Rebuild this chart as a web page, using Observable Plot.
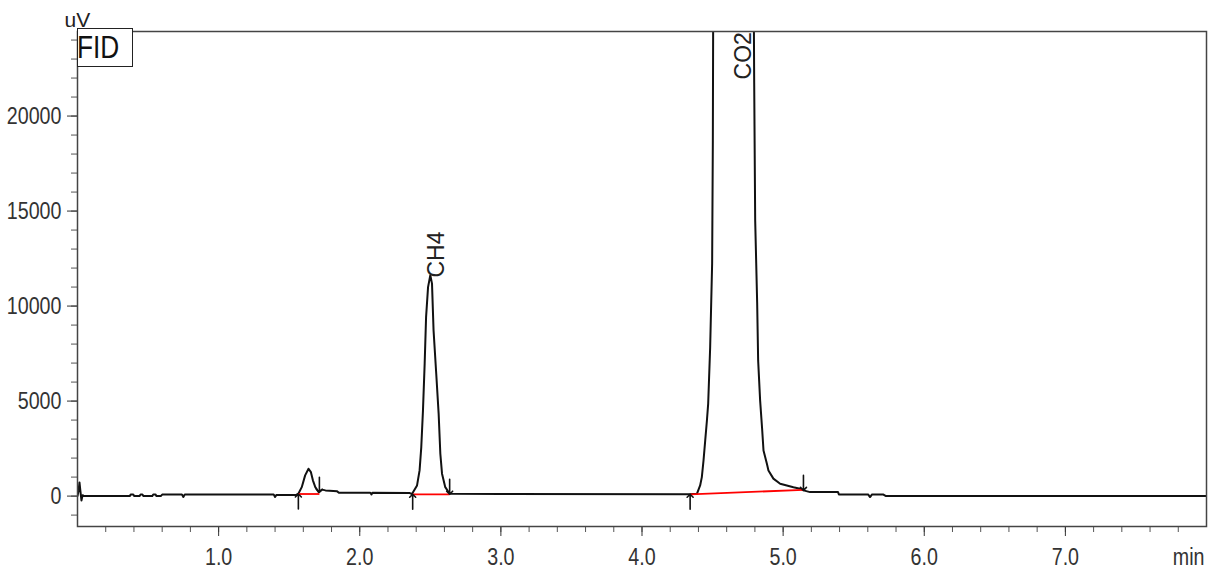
<!DOCTYPE html>
<html><head><meta charset="utf-8">
<script src="https://cdn.jsdelivr.net/npm/d3@7"></script>
<script src="https://cdn.jsdelivr.net/npm/@observablehq/plot@0.6"></script>
<style>
body{margin:0;background:#fff;}
#wrap{position:relative;width:1211px;height:572px;}
#fid{position:absolute;left:77px;top:28px;width:56px;height:39px;box-sizing:border-box;border:1.5px solid #222;background:#fff;overflow:hidden;}
#fid span{display:inline-block;font-family:'Liberation Sans',Arial,sans-serif;font-size:32px;line-height:37px;color:#111;transform:scaleX(0.82);transform-origin:0 0;margin-left:-1px;}
</style></head><body><div id="wrap"></div>
<script>
const sans = "'Liberation Sans',Arial,sans-serif";

// chromatogram trace (time in min, signal in uV)
const traceTime = [0.000,0.008,0.014,0.020,0.028,0.036,0.045,0.370,0.378,0.395,0.402,0.440,0.447,0.460,0.467,0.530,0.537,0.552,0.560,0.590,0.600,0.740,0.750,0.760,1.390,1.400,1.410,1.550,
 1.565,1.589,1.613,1.637,1.654,1.668,1.685,1.709,1.733,1.757,1.840,1.852,2.075,2.083,2.090,2.355,
 2.370,2.406,2.424,2.436,2.448,2.460,2.470,2.484,2.500,2.512,2.523,2.542,2.559,2.571,2.583,2.606,2.637,3.000,
 4.341,4.389,4.412,4.424,4.436,4.448,4.460,4.469,4.483,4.497,4.502,4.506,4.560,4.650,4.740,4.789,
 4.795,4.802,4.816,4.823,4.837,4.851,4.861,4.885,4.896,4.931,4.979,5.026,5.073,5.120,5.144,5.191,5.389,5.395,5.602,5.616,5.630,5.708,5.729,8.000];
const traceSignal = [0,300,720,300,-230,50,0,0,90,90,0,0,90,90,0,0,90,90,0,0,80,80,-40,80,80,-40,60,60,
 125,470,1090,1440,1260,830,470,210,340,300,250,180,180,90,180,160,
 110,560,1350,2580,4510,6970,9420,11000,11620,11180,8720,6440,4340,2230,1180,470,120,110,
 100,120,560,1000,1880,2930,3980,4870,7830,12250,18700,30000,60000,70000,60000,30000,
 21770,14510,10190,7140,5040,3560,2400,1700,1350,920,650,560,470,390,300,210,210,90,90,-50,90,90,0,0];

// integration baselines (red) and start/end markers
const baseStartT = [1.565, 2.375, 4.341];
const baseStartV = [110, 90, 90];
const baseEndT = [1.714, 2.637, 5.144];
const baseEndV = [110, 90, 330];
const markStartV = [110, 100, 100];
const markEndV = [200, 100, 300];

// peak labels
const peakNames = ["CH4", "CO2"];
const peakLabelT = [2.548, 4.72];
const peakLabelV = [11500, 21930];

// ticks
const yMajorTicks = [0, 5000, 10000, 15000, 20000];
const yMinorTicks = d3.range(-1000, 24001, 1000);
const xMajorTicks = [1, 2, 3, 4, 5, 6, 7];
const xMinorTicks = d3.range(0.2, 7.9, 0.2);

const trace = traceTime.map((t, i) => ({t, v: traceSignal[i]}));
const baselines = baseStartT.map((t, i) => ({t0: t, v0: baseStartV[i], t1: baseEndT[i], v1: baseEndV[i]}));
const starts = baseStartT.map((t, i) => ({t, v: markStartV[i]}));
const ends = baseEndT.map((t, i) => ({t, v: markEndV[i]}));
const peaks = peakNames.map((n, i) => ({name: n, t: peakLabelT[i], v: peakLabelV[i]}));

const chart = Plot.plot({
  width: 1211, height: 572,
  marginLeft: 77, marginRight: 5, marginTop: 31, marginBottom: 46,
  x: {domain: [0, 8]},
  y: {domain: [-1600, 24450]},
  style: {fontFamily: sans, background: "#fff", color: "#333", overflow: "visible"},
  marks: [
    Plot.axisY(yMinorTicks, {tickSize: 6, tickFormat: () => "", label: null, color: "#555"}),
    Plot.axisY(yMajorTicks, {tickSize: 10, tickPadding: 6, tickFormat: d3.format("d"), fontSize: 24, label: null, color: "#333"}),
    Plot.axisX(xMinorTicks, {tickSize: 6, tickFormat: () => "", label: null, color: "#555"}),
    Plot.axisX(xMajorTicks, {tickSize: 10, tickPadding: 11, tickFormat: d3.format(".1f"), fontSize: 24, label: null, color: "#333"}),
    Plot.line(trace, {x: "t", y: "v", stroke: "#111", strokeWidth: 2, clip: true}),
    Plot.link(baselines, {x1: "t0", y1: "v0", x2: "t1", y2: "v1", stroke: "#ff0000", strokeWidth: 1.8}),
    Plot.vector(starts, {x: "t", y: "v", length: 15, rotate: 0, anchor: "end", shape: "arrow", stroke: "#111", strokeWidth: 1.6}),
    Plot.vector(ends, {x: "t", y: "v", length: 15, rotate: 180, anchor: "end", shape: "arrow", stroke: "#111", strokeWidth: 1.6}),
    Plot.text(peaks, {x: "t", y: "v", text: "name", rotate: -90, textAnchor: "start", fontSize: 23, fill: "#222"}),
    Plot.frame({stroke: "#444", strokeWidth: 1.5}),
    Plot.text(["uV"], {frameAnchor: "top-left", dx: -13, dy: -5, textAnchor: "start", lineAnchor: "bottom", fontSize: 21, fill: "#222"}),
    Plot.text(["min"], {frameAnchor: "bottom-right", dx: -2, dy: 21, textAnchor: "end", lineAnchor: "top", fontSize: 24, fill: "#333"})
  ]
});

// condense tick-label text horizontally (narrow face, as in the reference)
const narrowSet = new Set([...yMajorTicks.map(d3.format("d")), ...xMajorTicks.map(d3.format(".1f")), "min"]);
for (const t of chart.querySelectorAll("text")) {
  if (!narrowSet.has(t.textContent.trim())) continue;
  const tr = t.getAttribute("transform");
  const x = t.getAttribute("x");
  if (x !== null && !isNaN(+x)) {
    t.removeAttribute("x");
    t.setAttribute("transform", (tr ? tr + " " : "") + `translate(${+x},0) scale(0.82,1)`);
  } else {
    t.setAttribute("transform", (tr ? tr + " " : "") + "scale(0.82,1)");
  }
}

const wrap = document.getElementById("wrap");
wrap.appendChild(chart);
const fid = document.createElement("div");
fid.id = "fid";
const span = document.createElement("span");
span.textContent = "FID";
fid.appendChild(span);
wrap.appendChild(fid);
</script>
</body></html>
